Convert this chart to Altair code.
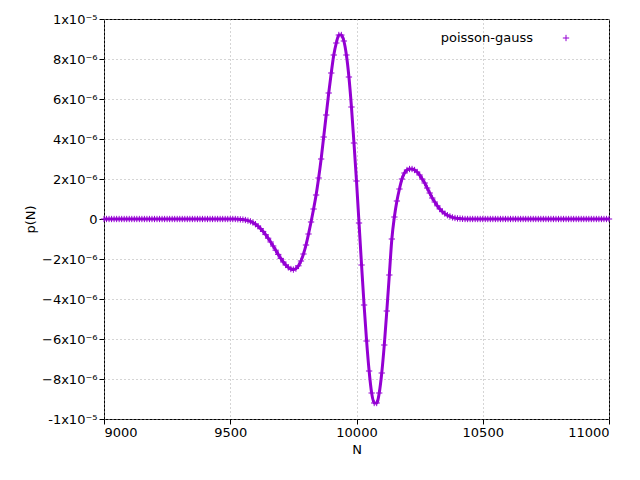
import altair as alt
import pandas as pd

# N sampled every 10 from 9000 to 11000
n_values = list(range(9000, 11010, 10))

# p(N) in units of 1e-6 (9530 .. 10420)
core_start = 9530
core_values = [
    -0.01, -0.02, -0.03, -0.05, -0.08, -0.12, -0.18, -0.26, -0.36, -0.48,
    -0.62, -0.78, -0.96, -1.15, -1.35, -1.56, -1.77, -1.97, -2.15, -2.30,
    -2.42, -2.50, -2.53, -2.48, -2.34, -2.10, -1.75, -1.30, -0.75, -0.15,
    0.50, 1.20, 2.05, 3.00, 4.10, 5.20, 6.30, 7.30, 8.20, 8.80,
    9.20, 9.20, 8.90, 8.20, 7.10, 5.60, 3.80, 1.90, -0.20, -2.30,
    -4.30, -6.10, -7.60, -8.70, -9.20, -9.20, -8.70, -7.70, -6.30, -4.60,
    -2.80, -1.00, 0.10, 0.90, 1.50, 2.00, 2.30, 2.45, 2.50, 2.50,
    2.45, 2.35, 2.20, 2.00, 1.80, 1.55, 1.30, 1.05, 0.85, 0.66,
    0.50, 0.37, 0.27, 0.19, 0.13, 0.08, 0.05, 0.03, 0.02, 0.01,
]

p_values = []
for n in n_values:
    i = (n - core_start) // 10
    p_values.append(core_values[i] * 1e-6 if 0 <= i < len(core_values) else 0.0)

df = pd.DataFrame({'N': n_values, 'p': p_values})

y_ticks = [i * 2e-6 for i in range(-5, 6)]
label_expr = (
    "abs(datum.value) < 1e-9 ? '0' : "
    "abs(datum.value) > 9.9e-6 ? (datum.value < 0 ? '-1x10⁻⁵' : '1x10⁻⁵') : "
    "format(datum.value * 1e6, 'd') + 'x10⁻⁶'"
)

purple = '#9400d3'
plus_shape = 'M-1,0L1,0M0,-1L0,1'
font = 'DejaVu Sans'
axis_style = dict(grid=True, gridDash=[1, 3], gridColor='#aaaaaa',
                  labelFont=font, titleFont=font, labelFontSize=13,
                  titleFontSize=13, titleFontWeight='normal',
                  labelColor='black', titleColor='black',
                  domain=False, tickColor='black')

base = alt.Chart(df).encode(
    x=alt.X('N:Q', scale=alt.Scale(domain=[9000, 11000], nice=False),
            axis=alt.Axis(values=list(range(9000, 11001, 500)), title='N',
                          format='d', **axis_style)),
    y=alt.Y('p:Q', scale=alt.Scale(domain=[-1e-5, 1e-5], nice=False),
            axis=alt.Axis(values=y_ticks, labelExpr=label_expr, title='p(N)',
                          **axis_style)),
)

line = base.mark_line(color=purple, strokeWidth=3, interpolate='monotone')
points = base.mark_point(
    shape=plus_shape, filled=False, size=40, strokeWidth=1, color=purple, opacity=1
)

legend_text = alt.Chart(pd.DataFrame({'t': ['poisson-gauss']})).mark_text(
    align='right', baseline='middle', font=font, fontSize=13, color='black'
).encode(x=alt.value(429), y=alt.value(19), text='t:N')

legend_mark = alt.Chart(pd.DataFrame({'t': ['poisson-gauss']})).mark_point(
    shape=plus_shape, filled=False, size=40, strokeWidth=1, color=purple, opacity=1
).encode(x=alt.value(462), y=alt.value(19))

chart = (line + points + legend_text + legend_mark).properties(
    width=505, height=400,
    autosize=alt.AutoSizeParams(type='none'),
    padding={'left': 96, 'top': 11, 'right': 23, 'bottom': 53},
).configure_view(stroke='black', strokeWidth=1)

chart.save("out.html", embed_options={"renderer": "svg", "actions": False})
